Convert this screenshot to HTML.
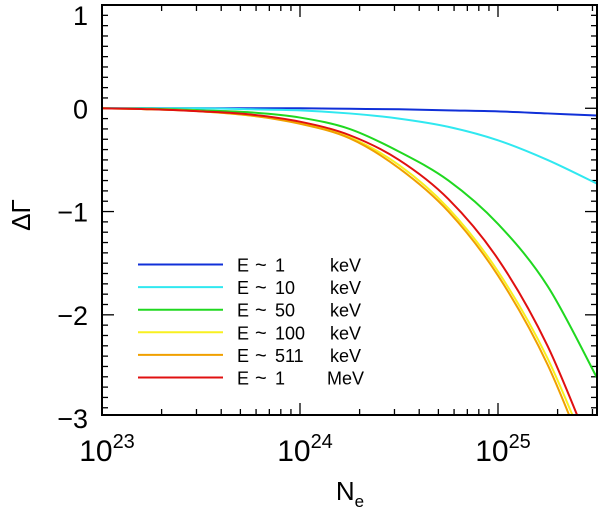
<!DOCTYPE html>
<html><head><meta charset="utf-8">
<style>
body{margin:0;background:#fff;}
svg{display:block;font-family:"Liberation Sans","DejaVu Sans",sans-serif;}
</style></head>
<body>
<svg id="chart" width="600" height="507" viewBox="0 0 600 507" xmlns="http://www.w3.org/2000/svg">
<defs><clipPath id="clip"><rect x="102" y="5" width="495" height="410"/></clipPath></defs>
<g id="grid"></g>
<g id="series" clip-path="url(#clip)"></g>
<g id="legend"></g>
<rect x="102" y="5" width="495" height="410" fill="none" stroke="#000" stroke-width="2"/>
<text x="30" y="215" font-size="26" text-anchor="middle" transform="rotate(-90 30 215)">ΔΓ</text>
<text x="350" y="500" font-size="26" text-anchor="middle">N<tspan font-size="17" dy="7">e</tspan></text>
</svg>
<script>
const logN = [23, 23.25, 23.5, 23.75, 24, 24.25, 24.5, 24.75, 25, 25.25, 25.5];
const labels = ["E  ~ 1     keV","E  ~ 10   keV","E  ~ 50   keV","E  ~ 100  keV","E  ~ 511  keV","E  ~ 1     MeV"];
const colors = ["#1030d8","#30e8f0","#20d820","#f8f020","#f0a000","#e01010"];
const sBlue = [0,0,0,0,0,-0.005,-0.01,-0.02,-0.03,-0.05,-0.07];
const sCyan = [0,0,0,-0.01,-0.02,-0.05,-0.1,-0.18,-0.31,-0.5,-0.73];
const sGreen = [0,-0.005,-0.02,-0.04,-0.09,-0.2,-0.42,-0.7,-1.12,-1.72,-2.61];
const sYellow = [0,-0.01,-0.03,-0.07,-0.14,-0.28,-0.55,-0.97,-1.58,-2.42,-3.55];
const sOrange = [0,-0.01,-0.03,-0.07,-0.15,-0.29,-0.58,-1.0,-1.62,-2.48,-3.65];
const sRed = [0,-0.01,-0.03,-0.06,-0.13,-0.26,-0.5,-0.88,-1.46,-2.3,-3.45];
const yTicks = [1,0,-1,-2,-3];
const xTicks = [23,24,25];
const seriesAll = [sBlue,sCyan,sGreen,sYellow,sOrange,sRed];
const seriesNames = ["1kev","10kev","50kev","100kev","511kev","1mev"];

const X0=102,X1=597,Y0=5,Y1=415;
const xMin=23,xMax=25.5,yMax=1,yMin=-2.97;
const xs=v=>X0+(v-xMin)/(xMax-xMin)*(X1-X0);
const ys=v=>Y0+(yMax-v)/(yMax-yMin)*(Y1-Y0);
const NS="http://www.w3.org/2000/svg";
function mk(t,a,p){const e=document.createElementNS(NS,t);for(const k in a)e.setAttribute(k,a[k]);p.appendChild(e);return e;}
const grid=document.getElementById('grid');
for(let v=-3;v<=1.0001;v+=0.1){
  const major=Math.abs(v-Math.round(v))<1e-6;
  const y=ys(v); if(y>Y1+0.5) continue;
  const len=major?12:6;
  const l1=mk('line',{x1:X0,x2:X0+len,y1:y,y2:y,stroke:'#000','stroke-width':1.3},grid);
  
  
  const l2=mk('line',{x1:X1,x2:X1-len,y1:y,y2:y,stroke:'#000','stroke-width':1.3},grid);
  
  
}
yTicks.forEach(v=>{
  const yy=Math.max(ys(v)+10,25);
  const t=mk('text',{x:88,y:yy,'font-size':27,'text-anchor':'end'},grid);
  t.textContent=v<0?'\u2212'+Math.abs(v):String(v);
  
  
});
for(let d=23;d<=25;d++){for(let m=1;m<=9;m++){
  const lv=d+Math.log10(m); if(lv>xMax) continue;
  const x=xs(lv),len=m===1?12:6;
  const a=mk('line',{x1:x,x2:x,y1:Y1,y2:Y1-len,stroke:'#000','stroke-width':1.3},grid);
  
  
  const b=mk('line',{x1:x,x2:x,y1:Y0,y2:Y0+len,stroke:'#000','stroke-width':1.3},grid);
  
  
}}
xTicks.forEach(v=>{
  const t=mk('text',{x:xs(v)+5,y:461,'font-size':30,'text-anchor':'middle'},grid);
  t.innerHTML='10<tspan font-size="20" dy="-13">'+v+'</tspan>';
  
  
});
const sg=document.getElementById('series');
function pathFor(vals){
  const P=logN.map((l,i)=>[xs(l),ys(vals[i])]);
  let d='M'+P[0][0]+','+P[0][1];
  for(let i=0;i<P.length-1;i++){
    const p0=P[Math.max(0,i-1)],p1=P[i],p2=P[i+1],p3=P[Math.min(P.length-1,i+2)];
    const c1=[p1[0]+(p2[0]-p0[0])/6,p1[1]+(p2[1]-p0[1])/6];
    const c2=[p2[0]-(p3[0]-p1[0])/6,p2[1]-(p3[1]-p1[1])/6];
    d+=' C'+c1[0]+','+c1[1]+' '+c2[0]+','+c2[1]+' '+p2[0]+','+p2[1];
  }
  return d;
}
seriesAll.forEach((s,i)=>{
  const p=mk('path',{d:pathFor(s),fill:'none',stroke:colors[i],'stroke-width':2},sg);
  
  
});
const lg=document.getElementById('legend');
labels.forEach((lab,i)=>{
  const y=264.5+i*22.6;
  const l=mk('line',{x1:138,x2:223,y1:y,y2:y,stroke:colors[i],'stroke-width':2},lg);
  
  
  const parts=lab.split(/\s+/);
  const t1=mk('text',{x:237,y:y+7,'font-size':18},lg);t1.textContent='E';
  
  
  const t2=mk('text',{x:255,y:y+7,'font-size':20},lg);t2.textContent='~';
  
  
  const t3=mk('text',{x:275,y:y+7,'font-size':18},lg);t3.textContent=parts[2];
  
  
  const t4=mk('text',{x:parts[3]==='MeV'?327:330,y:y+7,'font-size':18},lg);t4.textContent=parts[3];
  
  
});
</script>
</body></html>
